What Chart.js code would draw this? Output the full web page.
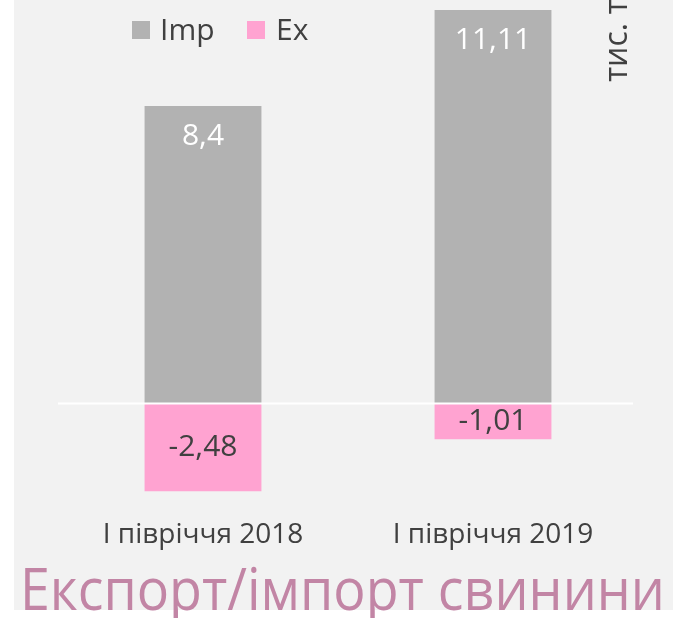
<!DOCTYPE html>
<html>
<head>
<meta charset="utf-8">
<script src="https://cdn.jsdelivr.net/npm/chart.js@4.4.1/dist/chart.umd.min.js"></script>
<style>
html,body{margin:0;padding:0;background:#ffffff;}
#wrap{width:673px;height:618px;position:relative;}
</style>
</head>
<body>
<div id="wrap"><canvas id="c" width="673" height="618"></canvas></div>
<script>
const categories = ['І півріччя 2018', 'І півріччя 2019'];
const importValues = [8.4, 11.11];
const exportValues = [-2.48, -1.01];
const seriesNames = ['Imp', 'Ex'];
const unitLabel = 'тис. т';
const chartTitle = 'Експорт/імпорт свинини';

const FONT = '"Open Sans", "Noto Sans", sans-serif';
const TEXT_DARK = '#404040';

const bgPlugin = {
  id: 'bg',
  beforeDraw(chart) {
    const ctx = chart.ctx;
    ctx.save();
    ctx.fillStyle = '#ffffff';
    ctx.fillRect(0, 0, chart.width, chart.height);
    ctx.fillStyle = '#f2f2f2';
    ctx.fillRect(14, 0, chart.width - 14, 610);
    ctx.restore();
  }
};

const zeroLinePlugin = {
  id: 'zeroLine',
  afterDatasetsDraw(chart) {
    const ctx = chart.ctx;
    const y = chart.scales.y.getPixelForValue(0);
    ctx.save();
    ctx.strokeStyle = '#ffffff';
    ctx.lineWidth = 2;
    ctx.beginPath();
    ctx.moveTo(chart.chartArea.left, y);
    ctx.lineTo(chart.chartArea.right - 5, y);
    ctx.stroke();
    ctx.restore();
  }
};

const labelPlugin = {
  id: 'valueLabels',
  afterDatasetsDraw(chart) {
    const ctx = chart.ctx;
    ctx.save();
    ctx.font = '30px ' + FONT;
    ctx.textAlign = 'center';
    ctx.textBaseline = 'middle';
    chart.data.datasets.forEach((ds, di) => {
      const meta = chart.getDatasetMeta(di);
      meta.data.forEach((el, i) => {
        const v = ds.data[i];
        const txt = String(v).replace('.', ',');
        let y;
        if (v >= 0) {
          y = el.y + 30;
          ctx.fillStyle = '#ffffff';
        } else {
          y = (el.y + el.base) / 2;
          ctx.fillStyle = TEXT_DARK;
        }
        ctx.fillText(txt, el.x, y);
      });
    });
    ctx.restore();
  }
};

const legendPlugin = {
  id: 'customLegend',
  afterDraw(chart) {
    const ctx = chart.ctx;
    const items = [
      { box: 132, text: 160 },
      { box: 247, text: 276 }
    ];
    ctx.save();
    ctx.font = '30px ' + FONT;
    ctx.textBaseline = 'alphabetic';
    ctx.textAlign = 'left';
    chart.data.datasets.forEach((ds, di) => {
      const it = items[di];
      ctx.fillStyle = ds.legendColor;
      ctx.fillRect(it.box, 21, 18, 18);
      ctx.fillStyle = TEXT_DARK;
      ctx.fillText(ds.label, it.text, 40);
    });
    ctx.restore();
  }
};

const extraTextPlugin = {
  id: 'extraText',
  afterDraw(chart) {
    const ctx = chart.ctx;
    ctx.save();
    // unit label, rotated
    ctx.font = '32px ' + FONT;
    ctx.fillStyle = TEXT_DARK;
    ctx.textAlign = 'left';
    ctx.textBaseline = 'alphabetic';
    ctx.translate(627, 82);
    ctx.rotate(-Math.PI / 2);
    ctx.fillText(unitLabel, 0, 0);
    ctx.restore();

    // title
    ctx.save();
    ctx.font = '59px ' + FONT;
    ctx.fillStyle = '#c285a5';
    ctx.textAlign = 'left';
    ctx.textBaseline = 'alphabetic';
    const w = ctx.measureText(chartTitle).width;
    const target = 645;
    ctx.translate(20, 610);
    ctx.scale(target / w, 1);
    ctx.fillText(chartTitle, 0, 0);
    ctx.restore();
  }
};

new Chart(document.getElementById('c'), {
  type: 'bar',
  data: {
    labels: categories,
    datasets: [
      { label: seriesNames[0], data: importValues, backgroundColor: '#b2b2b2', legendColor: '#b2b2b2' },
      { label: seriesNames[1], data: exportValues, backgroundColor: '#ffa3d1', legendColor: '#ffa3d1' }
    ]
  },
  options: {
    responsive: false,
    animation: false,
    devicePixelRatio: 1,
    layout: { padding: { left: 58, right: 35, top: 0, bottom: 63 } },
    datasets: { bar: { categoryPercentage: 1, barPercentage: 0.403 } },
    plugins: {
      legend: { display: false },
      title: { display: false },
      tooltip: { enabled: false }
    },
    scales: {
      x: {
        stacked: true,
        grid: { display: false, drawTicks: false },
        border: { display: false },
        ticks: { color: TEXT_DARK, font: { family: FONT, size: 28 }, padding: 3, maxRotation: 0 },
        afterFit(scale) { scale.height = 40; }
      },
      y: {
        stacked: true,
        display: false,
        min: -3.148,
        max: 11.392
      }
    }
  },
  plugins: [bgPlugin, zeroLinePlugin, labelPlugin, legendPlugin, extraTextPlugin]
});
</script>
</body>
</html>
